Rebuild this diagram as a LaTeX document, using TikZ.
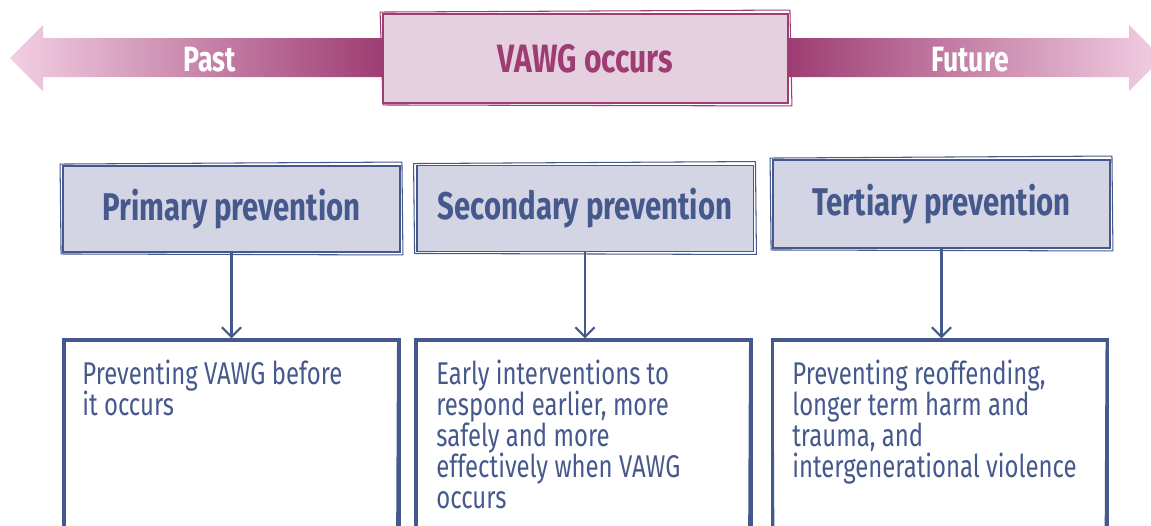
\documentclass[tikz,border=0pt]{standalone}
\usepackage{fontspec}
\setmainfont{Fira Sans}[FakeStretch=0.76]
\usetikzlibrary{arrows.meta, calc, positioning}
\definecolor{plum}{HTML}{9E3D73}
\definecolor{blush}{HTML}{F2CFE3}
\definecolor{plumfill}{HTML}{E4D0DE}
\definecolor{navy}{HTML}{46598D}
\definecolor{navyfill}{HTML}{D3D4E4}
\setlength{\lineskiplimit}{-10pt}

\begin{document}
\begin{tikzpicture}[x=0.02cm, y=-0.02cm]

\tikzset{
  % headers of the three kinds of prevention
  stage/.style={draw=navy, fill=navyfill, line width=1.1pt, minimum width=6.74cm,
    minimum height=1.72cm, text=navy, font=\bfseries\fontsize{22}{24}\selectfont},
  % boxes below the headers
  detail/.style={draw=navy, line width=1.8pt, minimum width=6.7cm, minimum height=4.4cm},
  detailtext/.style={anchor=north west, align=left, text=navy, inner sep=0pt,
    font=\fontsize{17.9}{17.6}\selectfont},
  down/.style={navy, line width=1.2pt, -{Straight Barb[length=5.5pt, width=11pt]}},
  rough/.style={line width=0.6pt},
  timetext/.style={text=white, font=\bfseries\fontsize{20}{22}\selectfont},
}

\useasboundingbox (0,0) rectangle (1151,525);
\clip (0,0) rectangle (1151,525);

% time line
\shade[left color=blush, right color=plum] (383,38) -- (43,38) -- (43,25) -- (10,58)
  -- (43,91) -- (43,77) -- (383,77) -- cycle;
\shade[left color=plum, right color=blush] (788,38) -- (1129,38) -- (1129,25) -- (1162,58)
  -- (1129,91) -- (1129,77) -- (788,77) -- cycle;
\node[timetext] (past) at (210,60) {Past};
\node[timetext] (future) at (970,60) {Future};

\node[draw=plum, fill=plumfill, line width=1.1pt, minimum width=8.1cm, minimum height=1.78cm,
  text=plum, font=\bfseries\fontsize{22.5}{24}\selectfont] (event) at (585.5,58.5) {VAWG occurs};
\draw[plum, rough] ($(event.north west)+(-2,-1)$) -- ($(event.north east)+(1,-3)$)
  -- ($(event.south east)+(3,2)$) -- ($(event.south west)+(1,1)$) -- cycle;

% headers
\node[stage] (primhead) at (231.5,209) {Primary prevention};
\node[stage] (sechead) at (585,208.5) {Secondary prevention};
\node[stage, minimum height=1.76cm] (terhead) at (941.5,204) {Tertiary prevention};

% boxes
\node[detail] (primbox) at (231.5,450) {};
\node[detail] (secbox) at (583.5,450) {};
\node[detail] (terbox) at (940,450) {};

\foreach \n in {primhead, sechead, terhead}
  \draw[navy, rough] ($(\n.north west)+(-2,-1)$) -- ($(\n.north east)+(1,-3)$)
    -- ($(\n.south east)+(2,2)$) -- ($(\n.south west)+(-1,1)$) -- cycle;
\foreach \n in {primbox, secbox, terbox}
  \draw[navy, rough] ($(\n.north west)+(2,3)$) -- ($(\n.north east)+(-3,2)$)
    -- ($(\n.south east)+(-4,0)$) -- ($(\n.south west)+(3,0)$) -- cycle;

\foreach \h/\b in {primhead/primbox, sechead/secbox, terhead/terbox}
  \draw[down] (\h.south) -- (\h.south |- \b.north);

\node[detailtext] (primtext) at (82,360) {Preventing VAWG before\\it occurs};
\node[detailtext] (sectext) at (436,360) {Early interventions to\\respond earlier, more\\safely and more\\effectively when VAWG\\occurs};
\node[detailtext] (tertext) at (792,360) {Preventing reoffending,\\longer term harm and\\trauma, and\\intergenerational violence};

\end{tikzpicture}
\end{document}
